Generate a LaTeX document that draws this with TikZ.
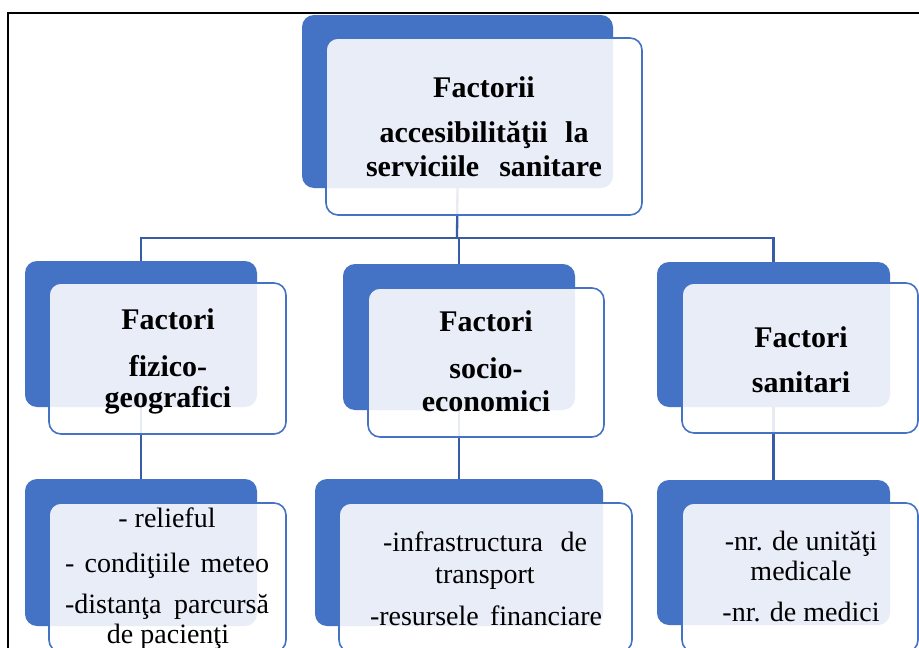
\documentclass[tikz,border=0pt]{standalone}
\usepackage{fontspec}
\setmainfont{Liberation Serif}
\definecolor{backblue}{RGB}{68,114,196}
\definecolor{linkblue}{RGB}{56,92,166}
\begin{document}
\begin{tikzpicture}[x=1pt,y=-1pt,
  backbox/.style={fill=backblue, rounded corners=12pt, inner sep=0pt, outer sep=0pt, anchor=north west},
  frontbox/.style={draw=backblue, line width=1.6pt, fill=white, fill opacity=0.88, rounded corners=12pt, inner sep=0pt, outer sep=0pt, anchor=north west},
  link/.style={draw=linkblue, line width=2.3pt},
  hd/.style={anchor=base, inner sep=0pt, font=\fontsize{30}{34}\selectfont\bfseries},
  tx/.style={anchor=base, inner sep=0pt, font=\fontsize{28}{32}\selectfont},
]
\useasboundingbox (0,0) rectangle (919,648);
\clip (0,0) rectangle (919,648);
\fill[white] (0,0) rectangle (919,648);

% back boxes
\node[backbox, minimum width=311pt, minimum height=173pt] (b0) at (302,15) {};
\node[backbox, minimum width=232pt, minimum height=146pt] (b1) at (25,261) {};
\node[backbox, minimum width=232pt, minimum height=146pt] (b2) at (343,264) {};
\node[backbox, minimum width=233pt, minimum height=145pt] (b3) at (657,262) {};
\node[backbox, minimum width=232pt, minimum height=147pt] (c1) at (25,479) {};
\node[backbox, minimum width=288pt, minimum height=147pt] (c2) at (315,479) {};
\node[backbox, minimum width=233pt, minimum height=145pt] (c3) at (657,480) {};

% connectors
\coordinate (j) at (457,238);
\draw[link] (b0.south) -- (j);
\draw[link] (b1.north) -- (b1.north |- j) -- (b3.north |- j) -- (b3.north);
\draw[link] (b2.north) -- (b2.north |- j);
\draw[link] (b1.south) -- (c1.north);
\draw[link] (b2.south) -- (c2.north);
\draw[link] (b3.south) -- (c3.north);

% front boxes
\node[frontbox, minimum width=316pt, minimum height=177pt] (f0) at (326,38) {};
\node[frontbox, minimum width=237pt, minimum height=151pt] (f1) at (49,283) {};
\node[frontbox, minimum width=236pt, minimum height=149pt] (f2) at (368,288) {};
\node[frontbox, minimum width=236pt, minimum height=150pt] (f3) at (682,283) {};
\node[frontbox, minimum width=237pt, minimum height=149pt] (g1) at (49,503) {};
\node[frontbox, minimum width=293pt, minimum height=149pt] (g2) at (339,503) {};
\node[frontbox, minimum width=236pt, minimum height=149pt] (g3) at (682,503) {};

% frame
\draw[line width=2.2pt] (8,700) -- (8,13) -- (940,13);

% title text
\node[hd] (t0a) at (484,97) {Factorii};
\node[hd] (t0b) at (484,142) {\makebox[209pt][s]{accesibilităţii la}};
\node[hd] (t0c) at (484,176) {\makebox[236pt][s]{serviciile sanitare}};

% level 2 text
\node[hd] (t1a) at (168,329) {Factori};
\node[hd] (t1b) at (168,376) {fizico-};
\node[hd] (t1c) at (168,407) {geografici};
\node[hd] (t2a) at (486,331) {Factori};
\node[hd] (t2b) at (486,378) {socio-};
\node[hd] (t2c) at (486,411) {economici};
\node[hd] (t3a) at (801,347) {Factori};
\node[hd] (t3b) at (801,392) {sanitari};

% level 3 text
\node[tx] (u1a) at (167,527) {- relieful};
\node[tx] (u1b) at (167,572) {\makebox[204pt][s]{- condiţiile meteo}};
\node[tx] (u1c) at (167,613) {\makebox[204pt][s]{-distanţa parcursă}};
\node[tx] (u1d) at (168,643) {de pacienţi};
\node[tx] (u2a) at (485,551) {\makebox[204pt][s]{-infrastructura de}};
\node[tx] (u2b) at (485,583) {transport};
\node[tx] (u2c) at (486,625) {\makebox[232pt][s]{-resursele financiare}};
\node[tx] (u3a) at (801,550) {-nr. de unităţi};
\node[tx] (u3b) at (801,580) {medicale};
\node[tx] (u3c) at (801,621) {-nr. de medici};
\end{tikzpicture}
\end{document}
